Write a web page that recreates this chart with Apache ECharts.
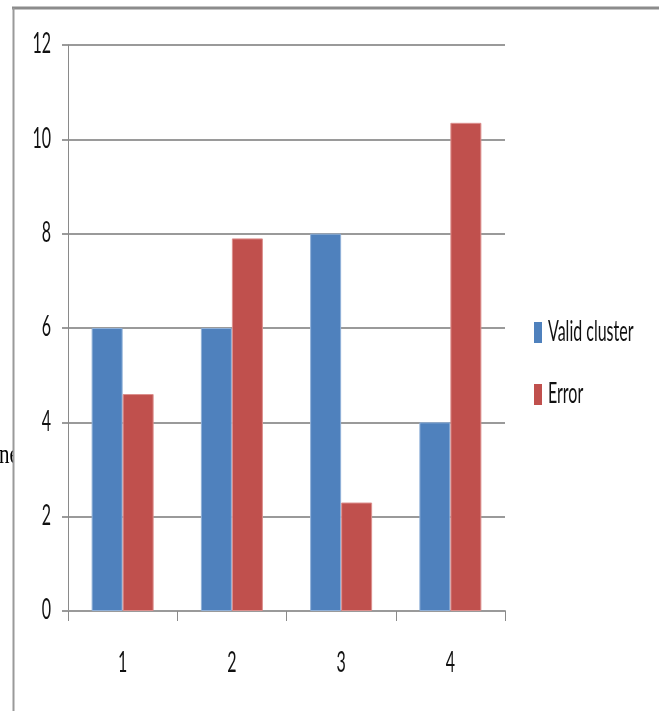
<!DOCTYPE html>
<html>
<head>
<meta charset="utf-8">
<script src="https://cdn.jsdelivr.net/npm/echarts@6/dist/echarts.min.js"></script>
<style>
  html, body { margin: 0; padding: 0; background: #fff; }
  #chart { width: 659px; height: 711px; }
</style>
</head>
<body>
<div id="chart"></div>
<script>
// === DATA ===
const categories = ['1', '2', '3', '4'];
const validCluster = [6, 6, 8, 4];
const errorValues = [4.6, 7.9, 2.3, 10.35];
const seriesNames = ['Valid cluster', 'Error'];
const yTicks = [0, 2, 4, 6, 8, 10, 12];

// === STYLE ===
// the source picture is stretched vertically, so text is drawn tall and narrow
const FONT = "Lato, 'Open Sans', sans-serif";
const STRETCH = 1.8;
const BLUE = '#4f81bd';
const RED = '#c0504d';
const TEXT = '#111';

const chart = echarts.init(document.getElementById('chart'));

chart.setOption({
    backgroundColor: '#fff',
    animation: false,
    grid: { left: 68, right: 154, top: 45, bottom: 100, containLabel: false },
    legend: {
        orient: 'vertical',
        left: 534,
        top: 322,
        padding: 0,
        itemWidth: 8,
        itemHeight: 21,
        itemGap: 41,
        icon: 'rect',
        data: seriesNames,
        formatter: () => '',
        itemStyle: { borderWidth: 0 },
        textStyle: { fontSize: 1 }
    },
    xAxis: {
        type: 'category',
        data: categories,
        axisLine: { lineStyle: { color: '#9a9a9a', width: 2 } },
        axisTick: { show: true, length: 10, lineStyle: { color: '#8a8a8a', width: 1 } },
        axisLabel: { show: false },
        splitLine: { show: false }
    },
    yAxis: {
        type: 'value',
        min: 0,
        max: 12,
        interval: 2,
        axisLine: { show: true, lineStyle: { color: '#8a8a8a', width: 1 } },
        axisTick: { show: true, length: 6, lineStyle: { color: '#9a9a9a', width: 2 } },
        axisLabel: { show: false },
        splitLine: { lineStyle: { color: '#9a9a9a', width: 2 } }
    },
    series: [
        {
            name: seriesNames[0],
            type: 'bar',
            data: validCluster,
            barWidth: 31,
            barGap: '0%',
            itemStyle: { color: BLUE, borderColor: '#8fb0d8', borderWidth: 1 }
        },
        {
            name: seriesNames[1],
            type: 'bar',
            data: errorValues,
            barWidth: 31,
            barGap: '0%',
            itemStyle: { color: RED, borderColor: '#dc8f8d', borderWidth: 1 }
        }
    ]
});

// === STRETCHED LABELS (placed through the axes' own scales) ===
function tallText(text, x, y, align, size) {
    return {
        type: 'text', x: x, y: y, scaleY: STRETCH, z: 5,
        style: {
            text: text, x: 0, y: 0, fill: TEXT,
            font: size + 'px ' + FONT,
            textAlign: align, textVerticalAlign: 'middle'
        }
    };
}

const graphics = [];
const yZero = chart.convertToPixel({ yAxisIndex: 0 }, 0);

yTicks.forEach(v => {
    const py = chart.convertToPixel({ yAxisIndex: 0 }, v);
    graphics.push(tallText(String(v), 51, py - 1, 'right', 16));
});

categories.forEach(c => {
    const px = chart.convertToPixel({ xAxisIndex: 0 }, c);
    graphics.push(tallText(c, px, yZero + 52, 'center', 16));
});

// legend texts next to the legend's own icons
graphics.push(tallText(seriesNames[0], 548, 332, 'left', 16));
graphics.push(tallText(seriesNames[1], 548, 394, 'left', 16));

// stray clipped text at the left edge
graphics.push({
    type: 'text', x: -1, y: 469, scaleY: 1.3, z: 10,
    style: { text: 'ne', x: 0, y: 0, font: "21px 'Liberation Serif', serif", fill: '#000', textVerticalAlign: 'bottom' }
});
graphics.push({ type: 'rect', shape: { x: 14, y: 440, width: 10, height: 40 }, style: { fill: '#fff' }, z: 11 });

// frame
graphics.push({ type: 'line', shape: { x1: 12, y1: 8, x2: 659, y2: 8 }, style: { stroke: '#8c8c8c', lineWidth: 3 }, z: 12 });
graphics.push({ type: 'line', shape: { x1: 13.5, y1: 8, x2: 13.5, y2: 711 }, style: { stroke: '#9a9a9a', lineWidth: 2 }, z: 12 });

chart.setOption({ graphic: graphics });
</script>
</body>
</html>
